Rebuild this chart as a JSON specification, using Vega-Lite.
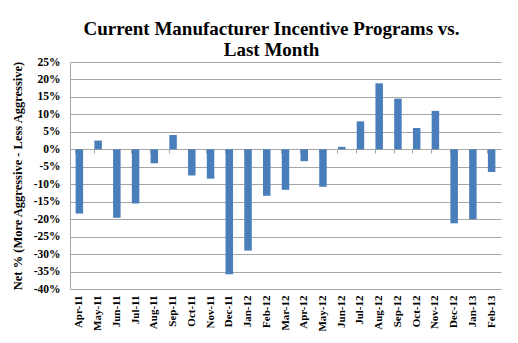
{
  "$schema": "https://vega.github.io/schema/vega-lite/v6.json",
  "width": 431,
  "height": 227,
  "autosize": {"type": "none"},
  "padding": {"left": 70, "top": 62, "right": 17, "bottom": 54},
  "background": "white",
  "title": {
    "text": ["Current Manufacturer Incentive Programs vs.", "Last Month"],
    "font": "Liberation Serif",
    "fontSize": 19,
    "fontWeight": "bold",
    "color": "black",
    "anchor": "middle",
    "frame": "group",
    "dx": -14,
    "offset": -4,
    "lineHeight": 21
  },
  "data": {
    "values": [
      {"month": "Apr-11", "value": -18.4},
      {"month": "May-11", "value": 2.5},
      {"month": "Jun-11", "value": -19.6},
      {"month": "Jul-11", "value": -15.5},
      {"month": "Aug-11", "value": -4.0},
      {"month": "Sep-11", "value": 4.1},
      {"month": "Oct-11", "value": -7.5},
      {"month": "Nov-11", "value": -8.4},
      {"month": "Dec-11", "value": -35.8},
      {"month": "Jan-12", "value": -29.0},
      {"month": "Feb-12", "value": -13.3},
      {"month": "Mar-12", "value": -11.6},
      {"month": "Apr-12", "value": -3.4},
      {"month": "May-12", "value": -10.7},
      {"month": "Jun-12", "value": 0.7},
      {"month": "Jul-12", "value": 8.0},
      {"month": "Aug-12", "value": 18.9},
      {"month": "Sep-12", "value": 14.5},
      {"month": "Oct-12", "value": 6.1},
      {"month": "Nov-12", "value": 11.0},
      {"month": "Dec-12", "value": -21.2},
      {"month": "Jan-13", "value": -20.0},
      {"month": "Feb-13", "value": -6.5}
    ]
  },
  "layer": [
    {
      "mark": {"type": "bar", "color": "#4a7ebb"},
      "encoding": {
        "x": {
          "field": "month",
          "type": "nominal",
          "sort": null,
          "scale": {"paddingInner": 0.6, "paddingOuter": 0.3},
          "axis": {
            "title": null,
            "labelAngle": -90,
            "labelFontSize": 11,
            "labelPadding": 6,
            "ticks": false,
            "domain": false
          }
        },
        "y": {
          "field": "value",
          "type": "quantitative",
          "scale": {"domain": [-40, 25], "nice": false, "zero": false},
          "axis": {
            "title": "Net % (More Aggressive - Less Aggressive)",
            "titleFontSize": 12.5,
            "titlePadding": 9,
            "values": [-40, -35, -30, -25, -20, -15, -10, -5, 0, 5, 10, 15, 20, 25],
            "labelExpr": "datum.value + '%'",
            "labelFontSize": 11.5,
            "labelPadding": 10,
            "ticks": false,
            "domain": true,
            "grid": true
          }
        }
      }
    },
    {
      "mark": {"type": "tick", "opacity": 0},
      "encoding": {
        "x": {
          "field": "month",
          "type": "nominal",
          "sort": null,
          "axis": {
            "orient": "bottom",
            "offset": -140,
            "title": null,
            "labels": false,
            "ticks": true,
            "tickSize": 4,
            "bandPosition": 0,
            "domain": true,
            "grid": false
          }
        }
      }
    }
  ],
  "resolve": {"axis": {"x": "independent"}},
  "config": {
    "font": "Liberation Serif",
    "view": {"stroke": null},
    "axis": {
      "labelFont": "Liberation Serif",
      "labelFontWeight": "bold",
      "labelColor": "black",
      "titleFont": "Liberation Serif",
      "titleFontWeight": "bold",
      "titleColor": "black",
      "domainColor": "#a6a6a6",
      "tickColor": "#a6a6a6",
      "gridColor": "#a6a6a6",
      "gridWidth": 1
    }
  }
}
